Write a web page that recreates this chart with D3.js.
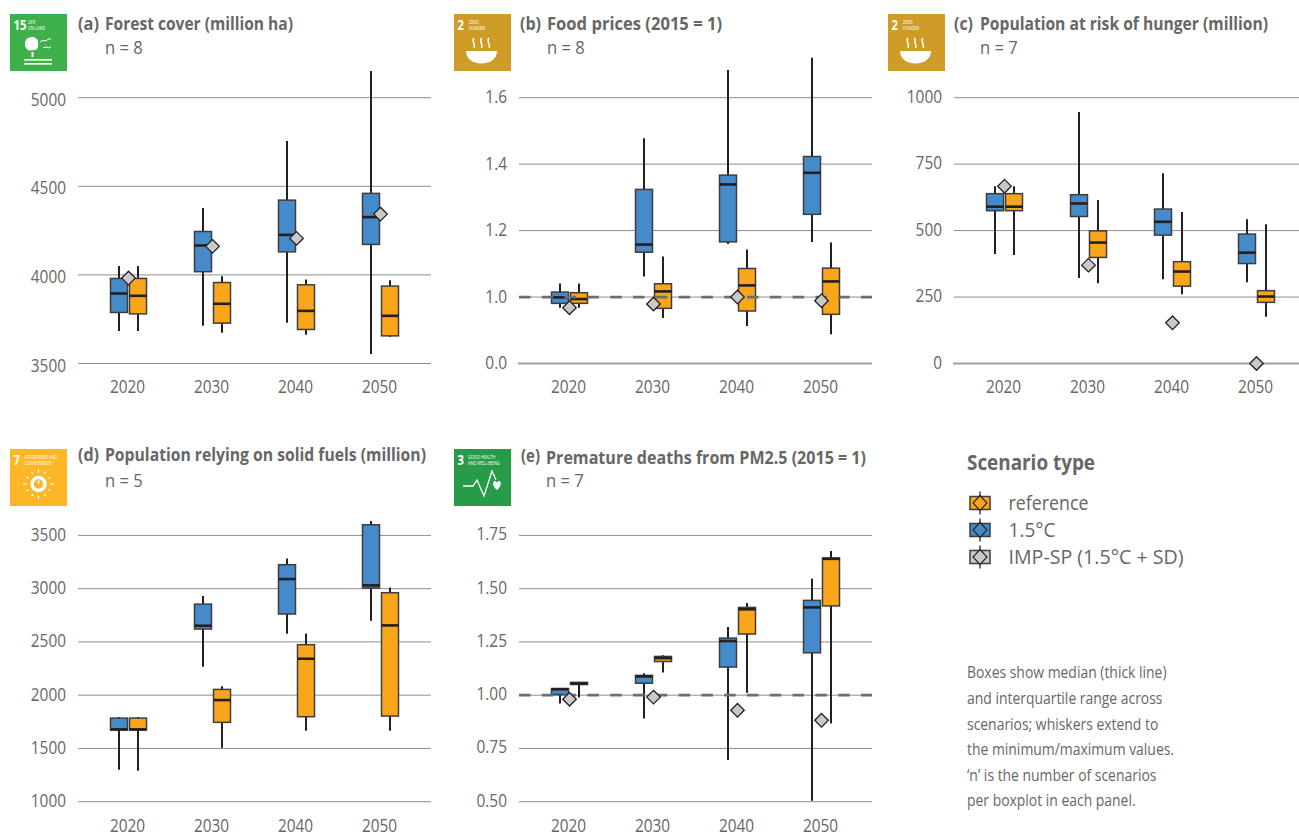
<!DOCTYPE html>
<html><head><meta charset="utf-8">
<script src="https://cdn.jsdelivr.net/npm/d3@7/dist/d3.min.js"></script>
<style>
html,body{margin:0;padding:0;background:#fff}
svg{display:block}
text{font-family:"Open Sans","Noto Sans",sans-serif;fill:#666766}
</style></head><body>
<svg id="c" width="1299" height="834"></svg>
<script>
// ---- data: each row is [min, q1, median, q3, max] for 2020, 2030, 2040, 2050
const years = ["2020","2030","2040","2050"];

const forestBlue = [[3684,3788,3895,3980,4050],[3713,4018,4166,4245,4377],[3730,4130,4226,4422,4755],[3553,4172,4326,4460,5150]];
const forestOrange = [[3684,3780,3882,3980,4050],[3673,3728,3837,3957,3993],[3662,3692,3797,3944,3974],[3650,3656,3769,3937,3970]];
const forestImp = [3982,4161,4206,4343];

const foodBlue = [[0.968,0.981,0.999,1.015,1.041],[1.062,1.135,1.158,1.324,1.478],[1.160,1.166,1.339,1.367,1.683],[1.166,1.249,1.374,1.423,1.720]];
const foodOrange = [[0.968,0.981,0.994,1.013,1.041],[0.937,0.966,1.017,1.040,1.122],[0.913,0.958,1.035,1.086,1.143],[0.888,0.948,1.047,1.087,1.164]];
const foodImp = [0.968,0.979,1.0,0.989];

const hungerBlue = [[412,575,590,639,667],[322,553,602,635,946],[317,483,533,581,716],[306,376,417,487,543]];
const hungerOrange = [[408,575,590,639,667],[302,399,455,499,615],[261,291,346,383,570],[176,230,252,274,524]];
const hungerImp = [667,370,153,0];

const fuelBlue = [[1300,1673,1679,1785,1795],[2267,2621,2652,2855,2931],[2577,2762,3090,3225,3284],[2699,3006,3031,3600,3635]];
const fuelOrange = [[1291,1673,1679,1785,1795],[1507,1745,1954,2054,2083],[1666,1798,2342,2474,2580],[1666,1804,2655,2962,3012]];
const fuelImp = [];

const deathsBlue = [[0.961,1.003,1.028,1.031,1.031],[0.890,1.056,1.088,1.093,1.103],[0.696,1.132,1.254,1.268,1.320],[0.504,1.199,1.412,1.445,1.546]];
const deathsOrange = [[0.989,1.050,1.055,1.060,1.060],[1.107,1.158,1.174,1.182,1.188],[1.011,1.287,1.403,1.412,1.433],[0.867,1.419,1.640,1.644,1.677]];
const deathsImp = [0.981,0.991,0.929,0.882];

const ticksA = [3500,4000,4500,5000];
const ticksB = [0.8,1.0,1.2,1.4,1.6];
const ticksBLabels = ["0.0","1.0","1.2","1.4","1.6"]; // axis is broken below 1.0
const ticksC = [0,250,500,750,1000];
const ticksD = [1000,1500,2000,2500,3000,3500];
const ticksE = [0.5,0.75,1.0,1.25,1.5,1.75];

const legendLabels = ["reference","1.5°C","IMP-SP (1.5°C + SD)"];
const noteLines = ["Boxes show median (thick line)","and interquartile range across","scenarios; whiskers extend to","the minimum/maximum values.","‘n’ is the number of scenarios","per boxplot in each panel."];

const BLUE="#458bc9", ORANGE="#faa61a", GREY="#c9c9c9", INK="#231f20", EDGE="#3d3d3f";
const svg = d3.select("#c");

function squeeze(sel,k){ sel.each(function(){
  this.setAttribute("textLength", (this.getComputedTextLength()*k).toFixed(1));
  this.setAttribute("lengthAdjust","spacingAndGlyphs"); }); return sel; }
function fit(sel,w){ sel.attr("textLength",w).attr("lengthAdjust","spacingAndGlyphs"); return sel; }

const panels = [
 {left:78, top:97.7, bottom:363.5, w:353, domain:[3500,5000], ticks:ticksA, fmt:d3.format("d"), blue:forestBlue, orange:forestOrange, imp:forestImp, tagX:78, tag:"(a)", titleX:105, title:"Forest cover (million ha)", titleW:188, tagW:21, n:"n = 8", ty:30, ny:54, yearY:393, dy:8, icon:"life", iconX:10, iconY:14},
 {left:519, top:97.7, bottom:363.5, w:353, domain:[0.8,1.6], ticks:ticksB, fmt:(d,i)=>ticksBLabels[i], blue:foodBlue, orange:foodOrange, imp:foodImp, tagX:520, tag:"(b)", titleX:547, title:"Food prices (2015 = 1)", titleW:175, tagW:21, n:"n = 8", ty:30, ny:54, yearY:393, dy:5.5, dashed:1.0, base:0.8, icon:"hunger", iconX:454, iconY:14},
 {left:954, top:97.7, bottom:363.5, w:345, domain:[0,1000], ticks:ticksC, fmt:d3.format("d"), blue:hungerBlue, orange:hungerOrange, imp:hungerImp, tagX:954, tag:"(c)", titleX:980, title:"Population at risk of hunger (million)", titleW:288, tagW:19, n:"n = 7", ty:30, ny:54, yearY:393, dy:5, base:0, icon:"hunger", iconX:888, iconY:14},
 {left:78, top:535.4, bottom:801.7, w:353, domain:[1000,3500], ticks:ticksD, fmt:d3.format("d"), blue:fuelBlue, orange:fuelOrange, imp:fuelImp, tagX:78, tag:"(d)", titleX:105, title:"Population relying on solid fuels (million)", titleW:321, tagW:21, n:"n = 5", ty:461, ny:487, yearY:832, dy:5.5, icon:"energy", iconX:10, iconY:449},
 {left:519, top:535.4, bottom:801.7, w:353, domain:[0.5,1.75], ticks:ticksE, fmt:d3.format(".2f"), blue:deathsBlue, orange:deathsOrange, imp:deathsImp, tagX:521, tag:"(e)", titleX:546, title:"Premature deaths from PM2.5 (2015 = 1)", titleW:320, tagW:19, n:"n = 7", ty:463.5, ny:487, yearY:832, dy:5, dashed:1.0, icon:"health", iconX:454, iconY:449}
];

panels.forEach(p=>{
  const g = svg.append("g");
  const y = d3.scaleLinear().domain(p.domain).range([p.bottom,p.top]);
  const x = d3.scalePoint().domain(years).range([p.left+50.5,p.left+302.5]);

  // gridlines + y labels
  const ya = d3.axisLeft(y).tickValues(p.ticks).tickFormat(p.fmt).tickSize(-p.w).tickPadding(12).offset(0);
  const yg = g.append("g").attr("transform",`translate(${p.left},0)`).call(ya);
  yg.select(".domain").remove();
  yg.selectAll("line").attr("stroke","#8e8e8e").attr("stroke-width",1);
  yg.selectAll("text").attr("font-size",17.5).attr("fill","#666766").attr("font-family",null).attr("dy",null).attr("y",p.dy).call(squeeze,0.88);
  if(p.base!==undefined){
    g.append("line").attr("x1",p.left-1).attr("x2",p.left+p.w).attr("y1",y(p.base)).attr("y2",y(p.base)).attr("stroke","#a0a0a2").attr("stroke-width",2.2);
  }

  // year labels
  const xa = d3.axisBottom(x).tickSize(0).tickPadding(0).offset(0);
  const xg = g.append("g").attr("transform",`translate(-1,${p.yearY})`).call(xa);
  xg.select(".domain").remove();
  xg.selectAll("text").attr("font-size",17.5).attr("fill","#666766").attr("font-family",null).attr("dy",null).attr("y",0).call(squeeze,0.88);

  // boxes
  const half=8.5;
  [[p.blue,BLUE,-9.5],[p.orange,ORANGE,9.5]].forEach(([rows,col,off])=>{
    const s = g.append("g").selectAll("g").data(rows).join("g").attr("transform",(d,i)=>`translate(${x(years[i])+off},0)`);
    s.append("line").attr("y1",d=>y(d[0])).attr("y2",d=>y(d[4])).attr("stroke",INK).attr("stroke-width",2);
    s.append("rect").attr("x",-half).attr("width",half*2).attr("y",d=>y(d[3])).attr("height",d=>y(d[1])-y(d[3])).attr("fill",col).attr("stroke",EDGE).attr("stroke-width",1.5);
    s.append("line").attr("x1",-half).attr("x2",half).attr("y1",d=>y(d[2])).attr("y2",d=>y(d[2])).attr("stroke",INK).attr("stroke-width",2.6);
  });

  // reference dashed line
  if(p.dashed!==undefined){
    g.append("line").attr("x1",p.left).attr("x2",p.left+p.w).attr("y1",y(p.dashed)).attr("y2",y(p.dashed)).attr("stroke","#6d6e70").attr("stroke-width",2.7).attr("stroke-dasharray","11.5 11.3");
  }

  // IMP-SP diamonds
  g.append("g").selectAll("path").data(p.imp).join("path")
    .attr("d","M0,-6.8L6.8,0L0,6.8L-6.8,0Z")
    .attr("transform",(d,i)=>`translate(${x(years[i])},${y(d)})`)
    .attr("fill",GREY).attr("stroke",INK).attr("stroke-width",1.3);

  // titles
  const tag = g.append("text").attr("x",p.tagX).attr("y",p.tag==="(e)"?p.ty-2:p.ty).attr("font-size",17.5).attr("font-weight",700).text(p.tag);
  fit(tag,p.tagW);
  const ti = g.append("text").attr("x",p.titleX).attr("y",p.ty).attr("font-size",17.5).attr("font-weight",700).text(p.title);
  fit(ti,p.titleW);
  g.append("text").attr("x",p.titleX).attr("y",p.ny).attr("font-size",18).text(p.n).call(squeeze,0.92);

  drawIcon(p.icon,p.iconX,p.iconY);
});

function drawIcon(kind,x0,y0){
  const spec = {
    life:{c:"#3eb049",num:"15",l1:"LIFE",l2:"ON LAND"},
    hunger:{c:"#cf9d27",num:"2",l1:"ZERO",l2:"HUNGER"},
    energy:{c:"#fdb726",num:"7",l1:"AFFORDABLE AND",l2:"CLEAN ENERGY"},
    health:{c:"#279b48",num:"3",l1:"GOOD HEALTH",l2:"AND WELL-BEING"}
  }[kind];
  const g = svg.append("g").attr("transform",`translate(${x0},${y0})`);
  g.append("rect").attr("width",57).attr("height",57).attr("fill",spec.c);
  const nx = 3.5, tx = spec.num.length>1?18:(kind==="hunger"?15:14);
  g.append("text").attr("x",nx).attr("y",16).attr("font-size",15).attr("font-weight",700).style("fill","#fff").text(spec.num).call(squeeze,0.75);
  g.append("text").attr("x",tx).attr("y",9.5).attr("font-size",5).style("fill","#fff").text(spec.l1).call(squeeze,0.78);
  g.append("text").attr("x",tx).attr("y",16).attr("font-size",5).style("fill","#fff").text(spec.l2).call(squeeze,0.78);
  if(kind==="hunger"){
    g.append("path").attr("d","M12,37H43C43,44 37,49.5 27.5,49.5C18,49.5 12,44 12,37Z").attr("fill","#fff");
    [20,27.5,35].forEach(c=>g.append("path").attr("d",`M${c},24C${c-3},27 ${c+2},30 ${c},34`).attr("fill","none").attr("stroke","#fff").attr("stroke-width",1.5));
  } else if(kind==="life"){
    g.append("path").attr("d","M15,30C15,25 18,23 22,23C26,23 29,26 28,30C29,34 26,37 22,36C18,38 15,34 15,30Z").attr("fill","#fff");
    g.append("rect").attr("x",21.5).attr("y",38).attr("width",2).attr("height",5).attr("fill","#fff");
    g.append("rect").attr("x",14).attr("y",45).attr("width",28).attr("height",1.6).attr("fill","#fff");
    g.append("rect").attr("x",14).attr("y",49).attr("width",28).attr("height",1.6).attr("fill","#fff");
    ["M30,28Q33,25 36,27Q38,24 41,25","M33,34Q36,32 39,34Q40,33 41,33"].forEach(b=>g.append("path").attr("d",b).attr("fill","none").attr("stroke","#fff").attr("stroke-width",1));
  } else if(kind==="energy"){
    g.append("circle").attr("cx",28.5).attr("cy",35).attr("r",6.5).attr("fill","none").attr("stroke","#fff").attr("stroke-width",3.5);
    g.append("rect").attr("x",27.8).attr("y",31).attr("width",1.4).attr("height",4).attr("fill","#fff");
    d3.range(12).forEach(i=>{const a=i*Math.PI/6,c=Math.cos(a),s=Math.sin(a);
      g.append("line").attr("x1",28.5+c*11.5).attr("y1",35+s*11.5).attr("x2",28.5+c*(i%3===0?15:14)).attr("y2",35+s*(i%3===0?15:14)).attr("stroke","#fff").attr("stroke-width",1.2);});
  } else {
    g.append("path").attr("d","M9,37H19L23,31L30,47L38,22L42,31").attr("fill","none").attr("stroke","#fff").attr("stroke-width",1.3);
    g.append("path").attr("d","M43,41C38,37 38.5,32 41,32C42,32 43,33 43,34C43,33 44,32 45,32C47.5,32 48,37 43,41Z").attr("fill","#fff");
  }
}

// legend
fit(svg.append("text").attr("x",967).attr("y",470).attr("font-size",20.5).attr("font-weight",700).text("Scenario type"),128);
const legendFill=[ORANGE,BLUE,GREY], legendY=[503,530,557], legendTextY=[510,537,564], legendW=[80,47,175];
legendLabels.forEach((t,i)=>{
  const g=svg.append("g").attr("transform",`translate(980,${legendY[i]})`);
  g.append("rect").attr("x",-10).attr("y",-6.5).attr("width",20).attr("height",13).attr("fill",legendFill[i]).attr("stroke",EDGE).attr("stroke-width",1.5);
  g.append("line").attr("y1",-11.5).attr("y2",11.5).attr("stroke",INK).attr("stroke-width",1.3);
  g.append("path").attr("d","M0,-7.5L7,0L0,7.5L-7,0Z").attr("fill",legendFill[i]).attr("stroke",INK).attr("stroke-width",1.1);
  fit(svg.append("text").attr("x",1008.5).attr("y",legendTextY[i]).attr("font-size",20.5).text(t),legendW[i]);
});

// note
const noteY=[678,704,730,755,781,806];
noteLines.forEach((t,i)=>{
  svg.append("text").attr("x",967).attr("y",noteY[i]).attr("font-size",16).text(t).call(squeeze,0.87);
});
</script>
</body></html>
